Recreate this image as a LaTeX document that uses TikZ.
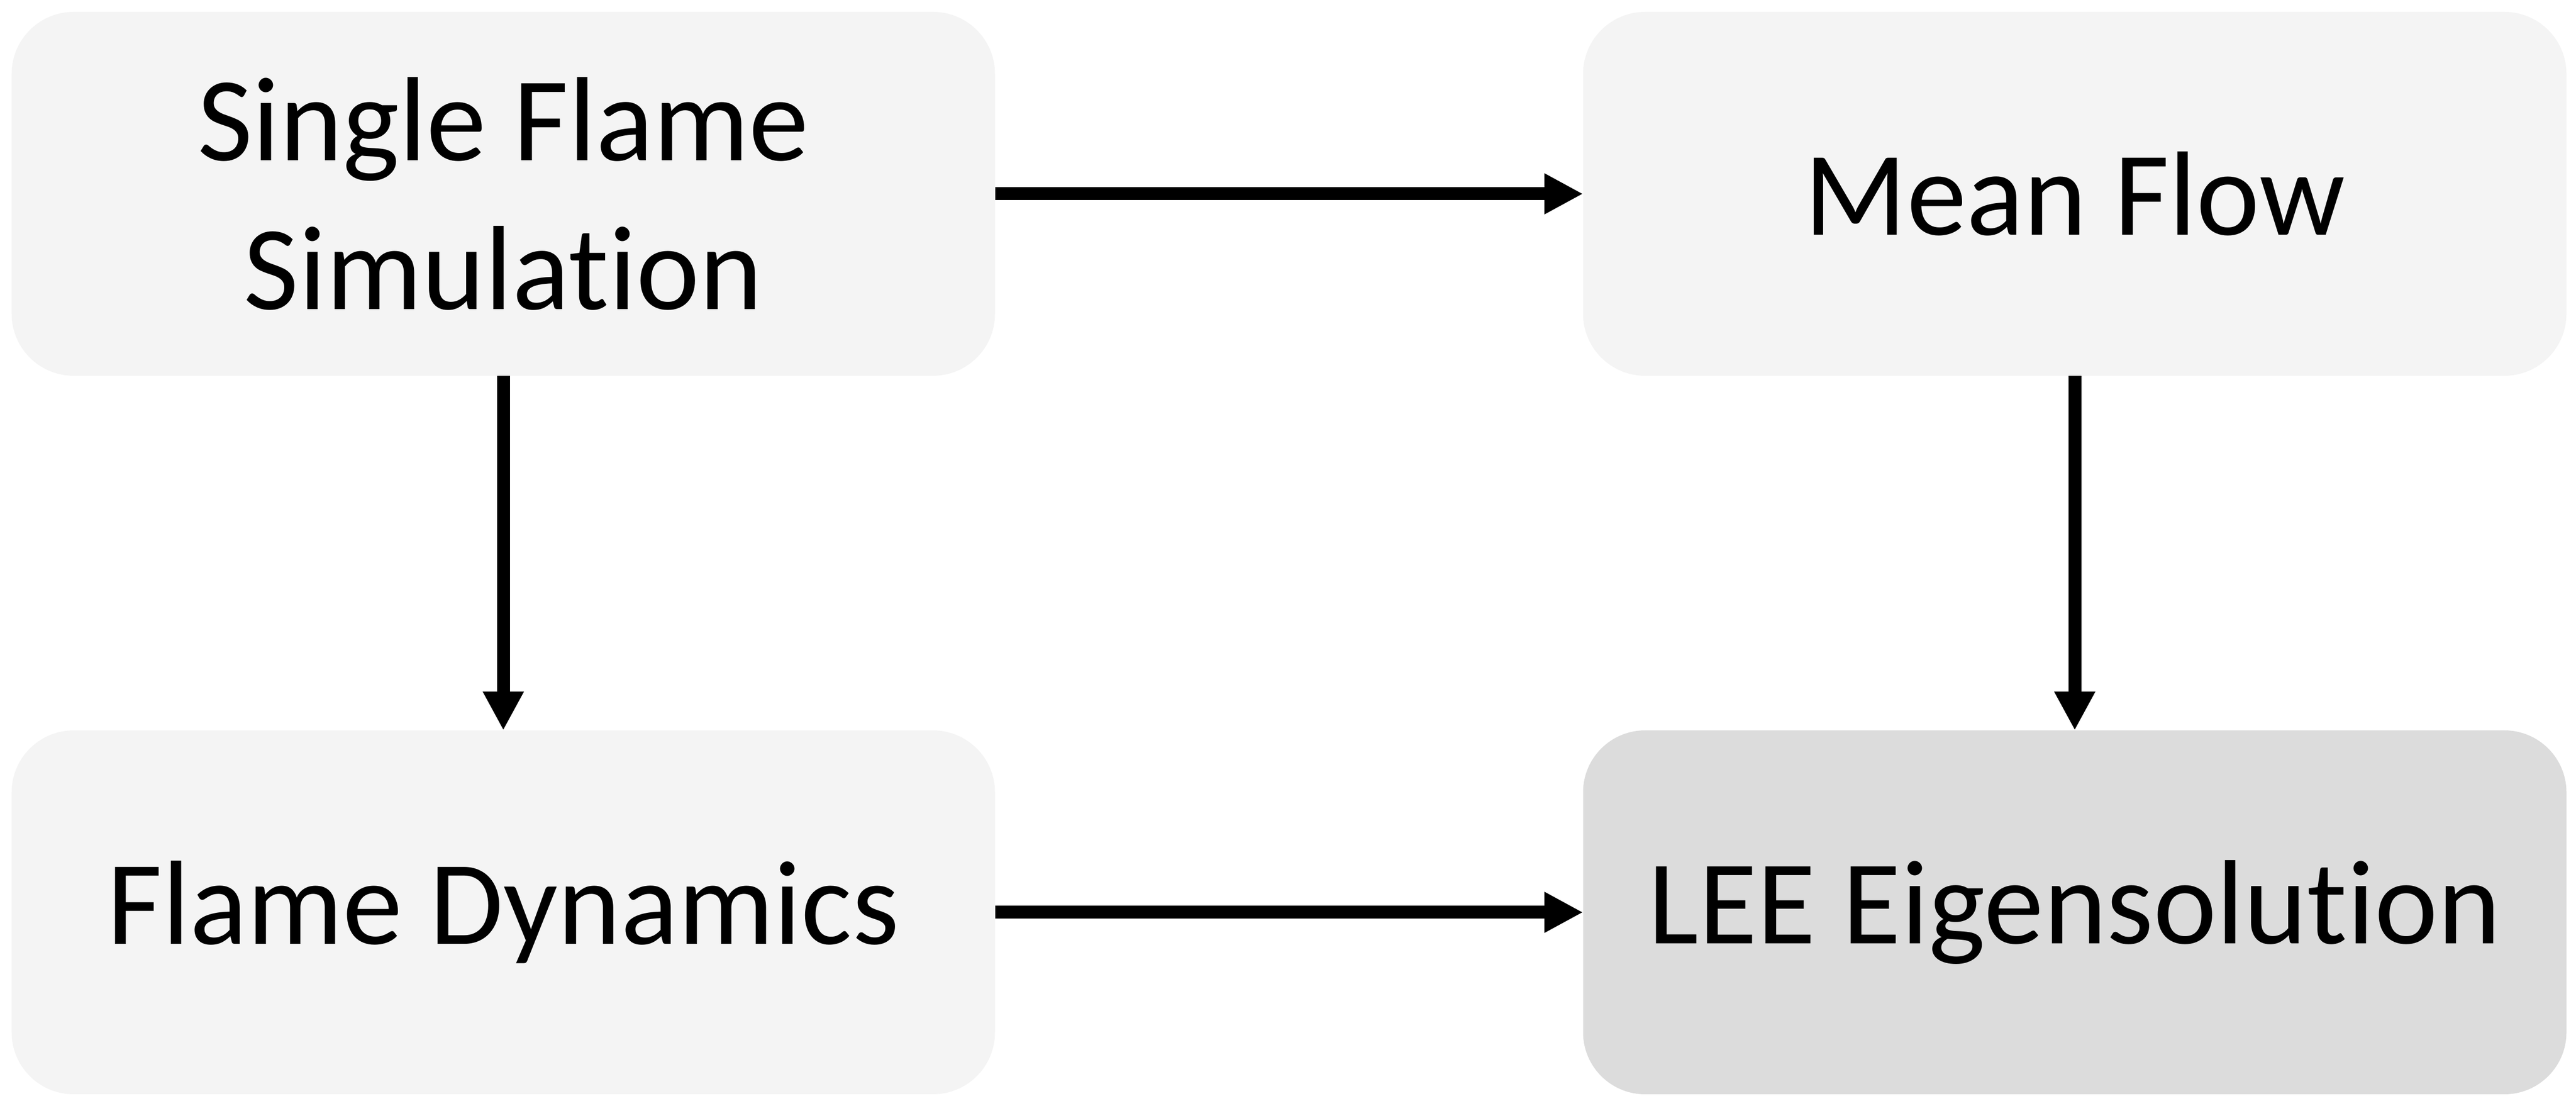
\documentclass[tikz,border=0pt]{standalone}
\usepackage{fontspec}
\setmainfont{Carlito}[Ligatures={NoCommon}]
\usepackage{tikz}
\usetikzlibrary{
  positioning,
  arrows.meta
}
\definecolor{boxgray}{HTML}{F4F4F4}
\definecolor{boxdark}{HTML}{DCDCDC}

\begin{document}
\begin{tikzpicture}[node distance = 3.43cm and 5.69cm,
    block/.style = {fill=boxgray, rounded corners=0.6cm, minimum width=9.515cm,
      minimum height=3.52cm, align=center, outer sep=0pt, inner sep=0pt,
      font=\fontsize{33}{41}\selectfont},
    >={Triangle[length=0.375cm,width=0.37cm]}, line width=0.125cm]
    \useasboundingbox (0,0) rectangle (24.925,10.645);
    \node[block] (sim) at (4.87,8.77) {Single Flame\\Simulation};
    \node[block,right = of sim] (mean) {Mean Flow};
    \node[block,below = of sim] (dyn) {Flame Dynamics};
    \node[block,below = of mean,fill=boxdark] (lee) {LEE Eigensolution};

    \draw[->] (sim) edge (mean);
    \draw[->] (sim) edge (dyn);
    \draw[->] (mean) edge (lee);
    \draw[->] (dyn) edge (lee);
  \end{tikzpicture}
\end{document}
